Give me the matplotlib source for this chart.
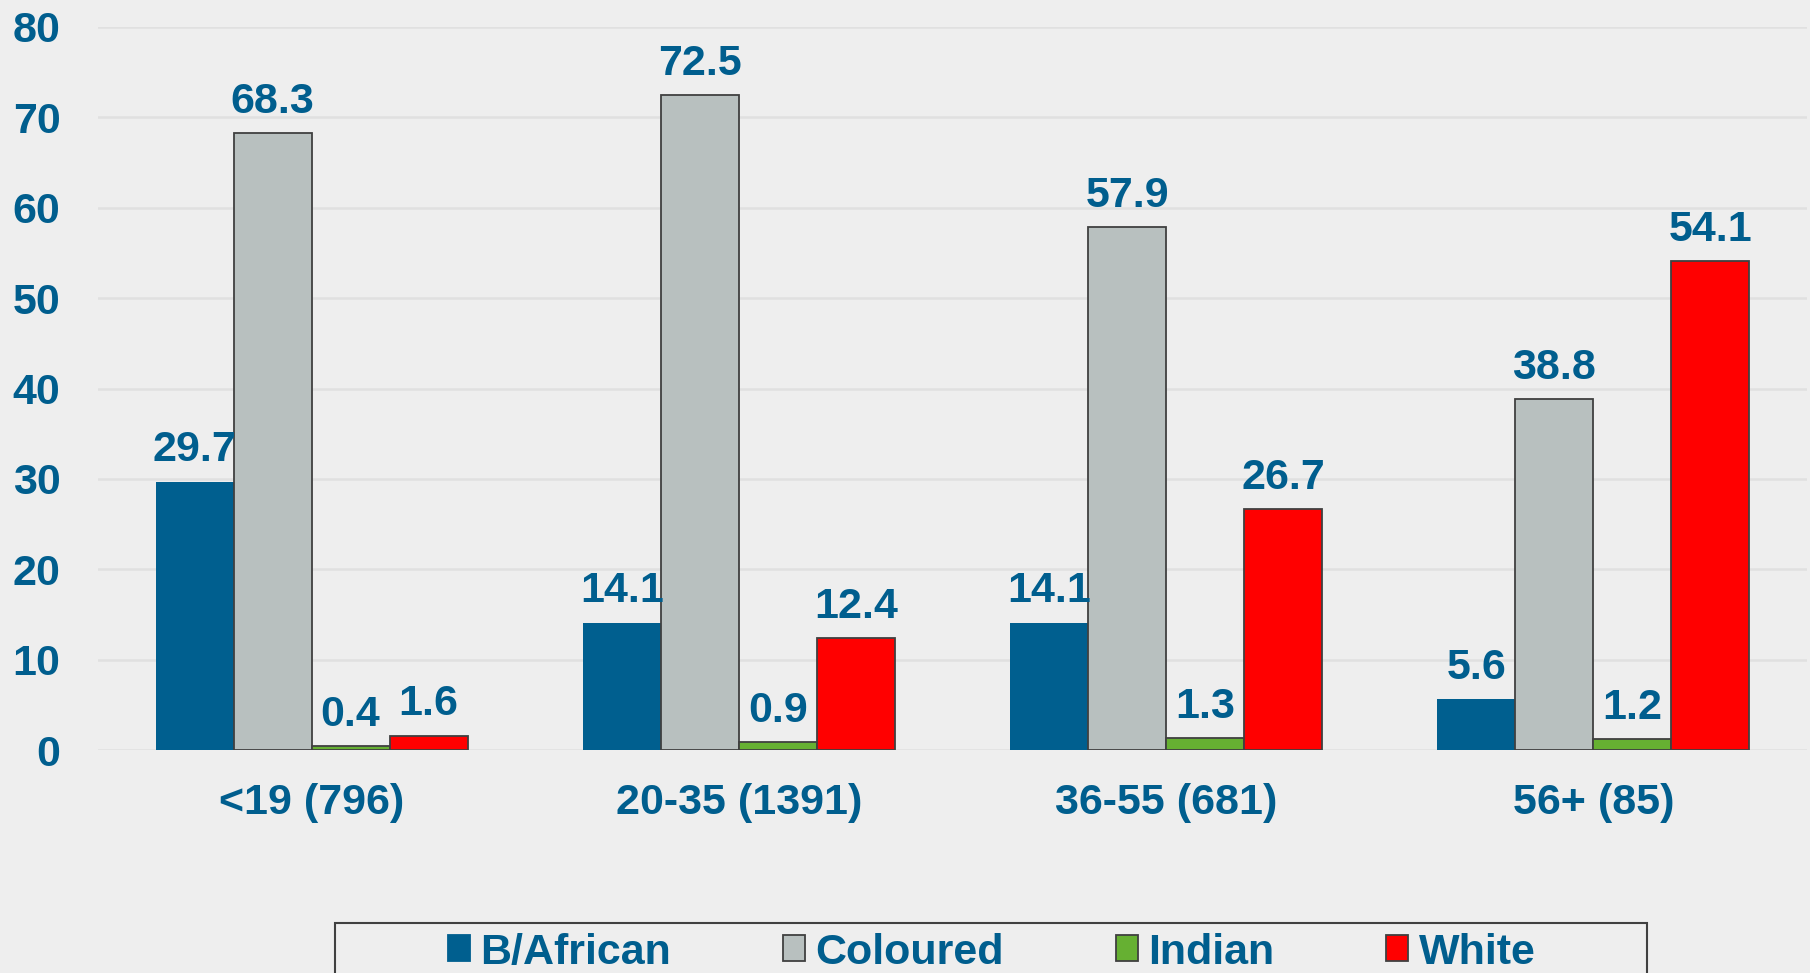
import matplotlib
matplotlib.use("Agg")
import matplotlib.pyplot as plt
import numpy as np
from matplotlib.patches import Patch, Rectangle

categories = ["<19 (796)", "20-35 (1391)", "36-55 (681)", "56+ (85)"]
series_names = ["B/African", "Coloured", "Indian", "White"]
b_african = [29.7, 14.1, 14.1, 5.6]
coloured = [68.3, 72.5, 57.9, 38.8]
indian = [0.4, 0.9, 1.3, 1.2]
white = [1.6, 12.4, 26.7, 54.1]
y_ticks = [0, 10, 20, 30, 40, 50, 60, 70, 80]

series = [b_african, coloured, indian, white]
colors = ["#005F8F", "#B8C0BF", "#66B032", "#FF0000"]
edges = ["none", "#404040", "#404040", "#404040"]
txt = "#005E8E"
bg = "#EEEEEE"
FS = 31

plt.rcParams['font.family'] = ['Liberation Sans', 'DejaVu Sans']
plt.rcParams['font.weight'] = 'bold'

fig = plt.figure(figsize=(18.1, 9.73), dpi=100, facecolor=bg)
ax = fig.add_axes([98/1810, 1-750/973, (1807-98)/1810, (750-27)/973])
ax.set_facecolor(bg)

x = np.arange(len(categories))
bw = 0.73 / 4
for i, (vals, c, ec) in enumerate(zip(series, colors, edges)):
    pos = x + (i - 1.5) * bw
    bars = ax.bar(pos, vals, width=bw, color=c, edgecolor=ec,
                  linewidth=1.3 if ec != "none" else 0, zorder=3)
    ax.bar_label(bars, labels=[f"{v:.1f}" for v in vals], padding=8,
                 fontsize=FS, fontweight='bold', color=txt, zorder=4)

ax.set_xlim(-0.5, len(categories) - 0.5)
ax.set_ylim(0, 80)
ax.set_yticks(y_ticks)
ax.set_yticklabels([str(t) for t in y_ticks])
ax.set_xticks(x)
ax.set_xticklabels(categories)
ax.tick_params(axis='y', length=0, pad=27, labelsize=FS, labelcolor=txt)
ax.tick_params(axis='x', length=0, pad=24, labelsize=FS, labelcolor=txt)
for lab in ax.get_xticklabels() + ax.get_yticklabels():
    lab.set_fontweight('bold')
ax.grid(axis='y', color='#E0E0E0', linewidth=1.8, zorder=0)
ax.set_axisbelow(True)
for s in ax.spines.values():
    s.set_visible(False)

handles = [Patch(facecolor=c, edgecolor=(ec if ec != "none" else c), linewidth=1.3)
           for c, ec in zip(colors, edges)]
leg = fig.legend(handles, series_names, ncol=4, loc='center',
                 bbox_to_anchor=(0.548, 0.021), frameon=False,
                 handlelength=0.5, handleheight=0.55, handletextpad=0.25,
                 columnspacing=2.6, prop={'size': FS, 'weight': 'bold'})
for t in leg.get_texts():
    t.set_color(txt)

fig.patches.append(Rectangle((335/1810, -0.05), (1647-335)/1810, 0.05 + (1 - 923/973),
                             transform=fig.transFigure, facecolor='none',
                             edgecolor='#404040', linewidth=1.5))

fig.savefig("out.png", dpi=100, facecolor=bg)
